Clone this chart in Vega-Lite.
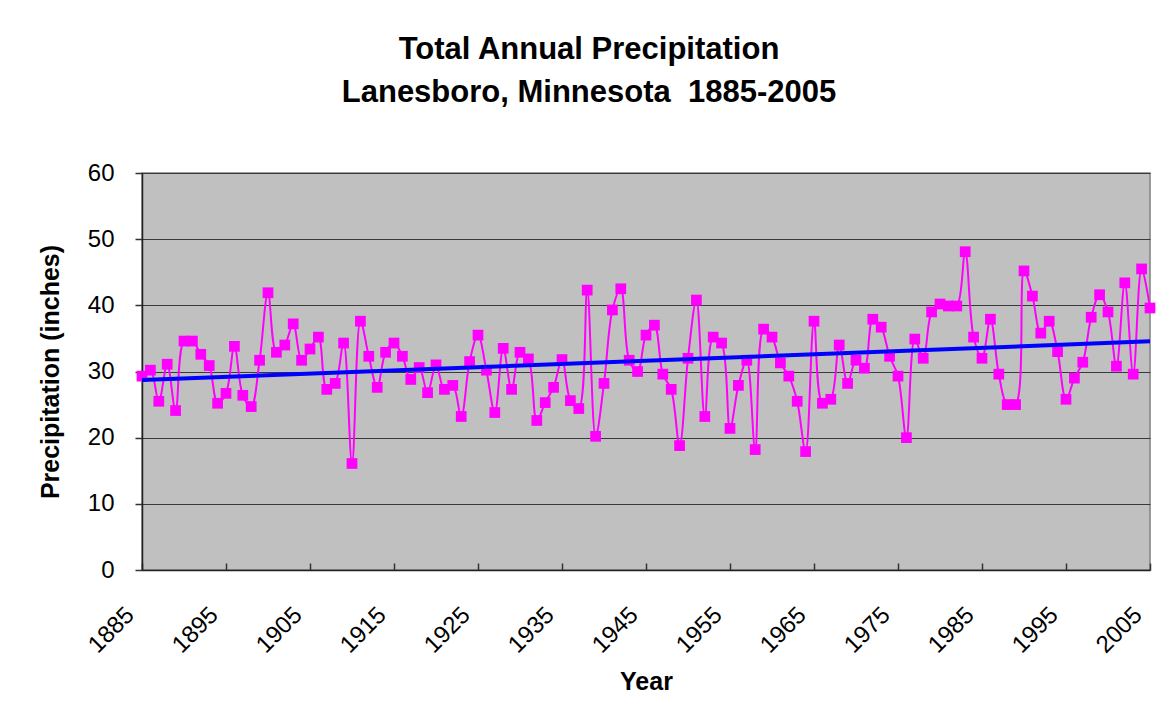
{
  "$schema": "https://vega.github.io/schema/vega-lite/v6.json",
  "width": 1008,
  "height": 397,
  "autosize": {"type": "none"},
  "padding": {"left": 142, "top": 173, "right": 9, "bottom": 151},
  "background": "white",
  "title": {
    "text": ["Total Annual Precipitation", "Lanesboro, Minnesota\u00a0\u00a01885-2005"],
    "font": "Liberation Sans",
    "fontSize": 31,
    "fontWeight": "bold",
    "color": "black",
    "anchor": "middle",
    "lineHeight": 43,
    "offset": 52,
    "dx": -57
  },
  "data": {
    "values": [
      {"year": 1885, "precip": 29.3}, {"year": 1886, "precip": 30.2}, {"year": 1887, "precip": 25.5},
      {"year": 1888, "precip": 31.1}, {"year": 1889, "precip": 24.1}, {"year": 1890, "precip": 34.6},
      {"year": 1891, "precip": 34.6}, {"year": 1892, "precip": 32.6}, {"year": 1893, "precip": 30.9},
      {"year": 1894, "precip": 25.2}, {"year": 1895, "precip": 26.7}, {"year": 1896, "precip": 33.8},
      {"year": 1897, "precip": 26.4}, {"year": 1898, "precip": 24.7}, {"year": 1899, "precip": 31.7},
      {"year": 1900, "precip": 41.9}, {"year": 1901, "precip": 32.9}, {"year": 1902, "precip": 34.0},
      {"year": 1903, "precip": 37.2}, {"year": 1904, "precip": 31.7}, {"year": 1905, "precip": 33.4},
      {"year": 1906, "precip": 35.2}, {"year": 1907, "precip": 27.3}, {"year": 1908, "precip": 28.2},
      {"year": 1909, "precip": 34.3}, {"year": 1910, "precip": 16.1}, {"year": 1911, "precip": 37.6},
      {"year": 1912, "precip": 32.3}, {"year": 1913, "precip": 27.6}, {"year": 1914, "precip": 32.9},
      {"year": 1915, "precip": 34.3}, {"year": 1916, "precip": 32.3}, {"year": 1917, "precip": 28.8},
      {"year": 1918, "precip": 30.6}, {"year": 1919, "precip": 26.8}, {"year": 1920, "precip": 31.0},
      {"year": 1921, "precip": 27.3}, {"year": 1922, "precip": 27.9}, {"year": 1923, "precip": 23.2},
      {"year": 1924, "precip": 31.5}, {"year": 1925, "precip": 35.5}, {"year": 1926, "precip": 30.2},
      {"year": 1927, "precip": 23.8}, {"year": 1928, "precip": 33.5}, {"year": 1929, "precip": 27.3},
      {"year": 1930, "precip": 32.9}, {"year": 1931, "precip": 31.9}, {"year": 1932, "precip": 22.6},
      {"year": 1933, "precip": 25.3}, {"year": 1934, "precip": 27.6}, {"year": 1935, "precip": 31.8},
      {"year": 1936, "precip": 25.6}, {"year": 1937, "precip": 24.4}, {"year": 1938, "precip": 42.3},
      {"year": 1939, "precip": 20.2}, {"year": 1940, "precip": 28.2}, {"year": 1941, "precip": 39.3},
      {"year": 1942, "precip": 42.5}, {"year": 1943, "precip": 31.7}, {"year": 1944, "precip": 30.0},
      {"year": 1945, "precip": 35.5}, {"year": 1946, "precip": 37.0}, {"year": 1947, "precip": 29.6},
      {"year": 1948, "precip": 27.3}, {"year": 1949, "precip": 18.8}, {"year": 1950, "precip": 32.0},
      {"year": 1951, "precip": 40.8}, {"year": 1952, "precip": 23.2}, {"year": 1953, "precip": 35.2},
      {"year": 1954, "precip": 34.3}, {"year": 1955, "precip": 21.4}, {"year": 1956, "precip": 27.9},
      {"year": 1957, "precip": 31.7}, {"year": 1958, "precip": 18.2}, {"year": 1959, "precip": 36.4},
      {"year": 1960, "precip": 35.2}, {"year": 1961, "precip": 31.3}, {"year": 1962, "precip": 29.3},
      {"year": 1963, "precip": 25.5}, {"year": 1964, "precip": 17.9}, {"year": 1965, "precip": 37.6},
      {"year": 1966, "precip": 25.2}, {"year": 1967, "precip": 25.8}, {"year": 1968, "precip": 34.0},
      {"year": 1969, "precip": 28.2}, {"year": 1970, "precip": 31.7}, {"year": 1971, "precip": 30.5},
      {"year": 1972, "precip": 37.9}, {"year": 1973, "precip": 36.7}, {"year": 1974, "precip": 32.3},
      {"year": 1975, "precip": 29.3}, {"year": 1976, "precip": 20.0}, {"year": 1977, "precip": 34.9},
      {"year": 1978, "precip": 32.0}, {"year": 1979, "precip": 39.0}, {"year": 1980, "precip": 40.2},
      {"year": 1981, "precip": 39.9}, {"year": 1982, "precip": 39.9}, {"year": 1983, "precip": 48.1},
      {"year": 1984, "precip": 35.2}, {"year": 1985, "precip": 32.0}, {"year": 1986, "precip": 37.9},
      {"year": 1987, "precip": 29.6}, {"year": 1988, "precip": 25.0}, {"year": 1989, "precip": 25.0},
      {"year": 1990, "precip": 45.2}, {"year": 1991, "precip": 41.4}, {"year": 1992, "precip": 35.8},
      {"year": 1993, "precip": 37.6}, {"year": 1994, "precip": 33.0}, {"year": 1995, "precip": 25.8},
      {"year": 1996, "precip": 29.0}, {"year": 1997, "precip": 31.4}, {"year": 1998, "precip": 38.2},
      {"year": 1999, "precip": 41.6}, {"year": 2000, "precip": 39.0}, {"year": 2001, "precip": 30.8},
      {"year": 2002, "precip": 43.4}, {"year": 2003, "precip": 29.6}, {"year": 2004, "precip": 45.5},
      {"year": 2005, "precip": 39.6}
    ]
  },
  "encoding": {
    "x": {
      "field": "year",
      "type": "quantitative",
      "scale": {"domain": [1885, 2005], "nice": false, "zero": false},
      "axis": {
        "title": "Year",
        "values": [1885, 1895, 1905, 1915, 1925, 1935, 1945, 1955, 1965, 1975, 1985, 1995, 2005],
        "format": "d",
        "labelAngle": -45,
        "labelAlign": "right",
        "labelBaseline": "middle",
        "labelOffset": -12,
        "labelPadding": 48,
        "tickSize": -7,
        "grid": false,
        "labelOverlap": false,
        "labelFlush": false,
        "titlePadding": 12
      }
    },
    "y": {
      "field": "precip",
      "type": "quantitative",
      "scale": {"domain": [0, 60], "nice": false},
      "axis": {
        "title": "Precipitation (inches)",
        "values": [0, 10, 20, 30, 40, 50, 60],
        "tickSize": 7,
        "labelPadding": 21,
        "grid": true,
        "titlePadding": 24
      }
    }
  },
  "layer": [
    {
      "mark": {"type": "line", "interpolate": "catmull-rom", "color": "#FF00FF", "strokeWidth": 2}
    },
    {
      "mark": {"type": "point", "shape": "square", "filled": true, "size": 115, "color": "#FF00FF", "opacity": 1}
    },
    {
      "transform": [{"regression": "precip", "on": "year", "extent": [1885, 2005]}],
      "mark": {"type": "line", "color": "#0000FF", "strokeWidth": 4}
    }
  ],
  "config": {
    "view": {"fill": "#C0C0C0", "stroke": "#808080", "strokeWidth": 1.5},
    "axis": {
      "labelFont": "Liberation Sans",
      "labelFontSize": 24,
      "labelColor": "black",
      "titleFont": "Liberation Sans",
      "titleFontSize": 25,
      "titleFontWeight": "bold",
      "titleColor": "black",
      "domainColor": "#222222",
      "domainWidth": 1.5,
      "tickColor": "#333333",
      "tickWidth": 1.5,
      "gridColor": "#3a3a3a",
      "gridWidth": 1,
      "gridOpacity": 1
    }
  }
}
